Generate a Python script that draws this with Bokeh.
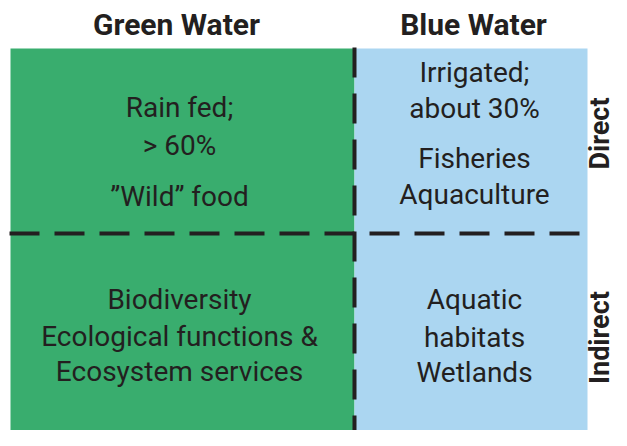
from bokeh.plotting import figure
from bokeh.models import Range1d, ColumnDataSource
from bokeh.core.properties import value
from bokeh.embed import file_html
from bokeh.resources import INLINE
import math

# ---- data ----
column_labels = ["Green Water", "Blue Water"]
row_labels = ["Direct", "Indirect"]
green_direct = ["Rain fed;", "> 60%", "\u201dWild\u201d food"]
blue_direct = ["Irrigated;", "about 30%", "Fisheries", "Aquaculture"]
green_indirect = ["Biodiversity", "Ecological functions &", "Ecosystem services"]
blue_indirect = ["Aquatic", "habitats", "Wetlands"]

# ---- layout (picture pixel coordinates) ----
W, H = 611, 430
X0, XMID, X1 = 10, 354, 587
Y0, YMID, Y1 = 48, 233, 446
col_centers = [179, 474]
row_centers = [133, 337]
DY = -11  # baseline correction
GREEN = "#39AD6E"
BLUE = "#ABD6F1"
INK = "#231F20"

p = figure(width=W, height=H, output_backend="svg", toolbar_location=None,
           x_range=Range1d(0, W), y_range=Range1d(H, 0),
           min_border=0, outline_line_color=None)
p.axis.visible = False
p.xgrid.visible = False
p.ygrid.visible = False
p.background_fill_color = "white"
p.border_fill_color = "white"

# cells
p.quad(left=[X0, XMID], right=[XMID, X1], top=[Y0, Y0], bottom=[Y1, Y1],
       fill_color=[GREEN, BLUE], line_color=None)

# dashed dividers
p.line(x=[X0 - 1, X1], y=[YMID, YMID], line_color=INK, line_width=4,
       line_dash="30 15")
p.line(x=[XMID, XMID], y=[Y0 - 1, Y1], line_color=INK, line_width=4,
       line_dash="30 16")

# headers
p.text(x=[176, 473], y=[35 + DY, 35 + DY], text=column_labels,
       text_font=value("Roboto"), text_font_style="bold",
       text_font_size="30px", text_color=INK,
       text_align="center", text_baseline="alphabetic")

# row labels (rotated)
p.text(x=[599, 599], y=row_centers, text=row_labels, angle=math.pi / 2,
       text_font=value("Roboto"), text_font_style="bold",
       text_font_size="27px", text_color=INK,
       text_align="center", text_baseline="middle")

# cell texts
def cell(lines, xc, baselines):
    src = ColumnDataSource(dict(x=[xc] * len(lines),
                                y=[b + DY for b in baselines], t=lines))
    p.text(x="x", y="y", text="t", source=src,
           text_font=value("Roboto"), text_font_size="28px", text_color=INK,
           text_align="center", text_baseline="alphabetic")

cell(green_direct, col_centers[0], [118, 156, 207])
cell(blue_direct, col_centers[1], [83, 119, 169, 205])
cell(green_indirect, col_centers[0], [310, 347, 382])
cell(blue_indirect, col_centers[1], [310, 348, 383])

open("out.html", "w").write(file_html(p, INLINE))
